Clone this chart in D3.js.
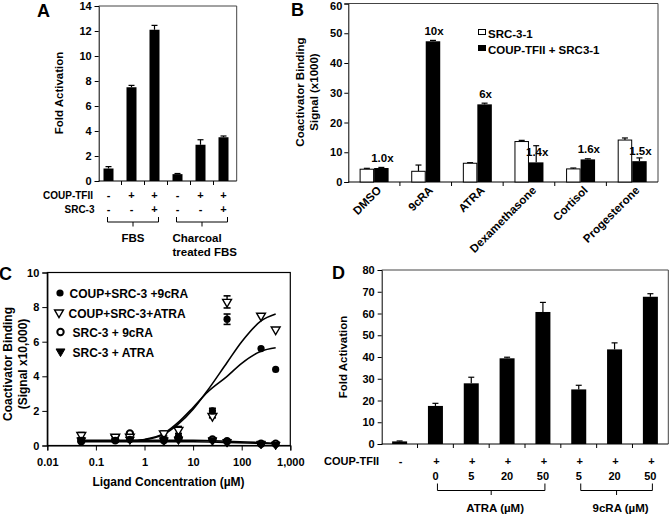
<!DOCTYPE html>
<html>
<head>
<meta charset="utf-8">
<script src="https://cdn.jsdelivr.net/npm/d3@7"></script>
<style>
  html, body { margin: 0; padding: 0; background: #fff; }
  svg { display: block; font-family: "Liberation Sans", Arial, sans-serif; font-weight: bold; }
  text { fill: #000; }
</style>
</head>
<body>
<script>
// ---------------- DATA ----------------
// Panel A
const aCoup = ["-", "+", "+", "-", "+", "+"];
const aSrc = ["-", "-", "+", "-", "-", "+"];
const aValues = [1.0, 7.5, 12.1, 0.55, 2.9, 3.5];
const aErrors = [0.15, 0.15, 0.35, 0.05, 0.4, 0.1];
const aTicks = [0, 2, 4, 6, 8, 10, 12, 14];
const aGroups = [{ label: ["FBS"], from: 0, to: 2 }, { label: ["Charcoal", "treated FBS"], from: 3, to: 5 }];

// Panel B
const bCategories = ["DMSO", "9cRA", "ATRA", "Dexamethasone", "Cortisol", "Progesterone"];
const bSrc = [4.3, 3.6, 6.3, 13.6, 4.4, 14.1];
const bSrcErr = [0.3, 2.1, 0.2, 0.4, 0.3, 0.7];
const bCoup = [4.7, 47.3, 26.1, 6.6, 7.6, 7.0];
const bCoupErr = [0.2, 0.3, 0.4, 5.6, 0.2, 1.1];
const bFold = ["1.0x", "10x", "6x", "1.4x", "1.6x", "1.5x"];
const bTicks = [0, 10, 20, 30, 40, 50, 60];
const bLegend = ["SRC-3-1", "COUP-TFII + SRC3-1"];

// Panel C
const cConc = [0.05, 0.25, 0.5, 2.5, 5, 25, 50, 250, 500];
const cCoup9 = [0.3, 0.3, 0.35, 0.35, 0.5, 2.0, 7.3, 5.6, 4.4];
const cCoup9Err = [0.1, 0.1, 0.1, 0.1, 0.1, 0.15, 0.3, 0, 0];
const cCoupAtra = [0.6, 0.5, 0.5, 0.7, 0.9, 1.7, 8.3, 7.5, 6.7];
const cCoupAtraErr = [0.15, 0.1, 0.1, 0.15, 0.2, 0.1, 0.35, 0, 0];
const cSrc9 = [0.25, 0.3, 0.7, 0.3, 0.4, 0.35, 0.25, 0.1, 0.1];
const cSrcAtra = [0.3, 0.45, 0.35, 0.3, 0.35, 0.3, 0.2, 0.1, 0.05];
// fitted curves (concentration, value)
const cFitAtra = [[0.05, 0.25], [0.5, 0.27], [1, 0.33], [2.5, 0.65], [5, 1.25], [10, 2.1], [20, 3.2], [50, 4.8], [100, 6.0], [250, 7.2], [500, 7.6]];
const cFit9 = [[0.05, 0.25], [0.5, 0.27], [1, 0.35], [2.5, 0.7], [5, 1.35], [10, 2.2], [20, 3.1], [50, 4.0], [100, 4.75], [250, 5.45], [500, 5.65]];
const cFitSrc9 = [[0.05, 0.3], [1, 0.3], [10, 0.3], [50, 0.25], [500, 0.12]];
const cFitSrcAtra = [[0.05, 0.22], [1, 0.22], [10, 0.22], [50, 0.18], [500, 0.1]];
const cXTicks = [0.01, 0.1, 1, 10, 100, 1000];
const cXTickLabels = ["0.01", "0.1", "1", "10", "100", "1,000"];
const cYTicks = [0, 2, 4, 6, 8, 10];
const cLegend = ["COUP+SRC-3 +9cRA", "COUP+SRC-3+ATRA", "SRC-3 + 9cRA", "SRC-3 + ATRA"];

// Panel D
const dCoup = ["-", "+", "+", "+", "+", "+", "+", "+"];
const dDose = ["", "0", "5", "20", "50", "5", "20", "50"];
const dValues = [1.2, 17.5, 27.9, 39.4, 60.7, 25.1, 43.5, 67.7];
const dErrors = [0.2, 1.2, 2.8, 0.5, 4.4, 1.9, 3.0, 1.4];
const dTicks = [0, 10, 20, 30, 40, 50, 60, 70, 80];
const dGroups = [{ label: "ATRA (\u00b5M)", from: 1, to: 4 }, { label: "9cRA (\u00b5M)", from: 5, to: 7 }];

// ---------------- DRAW ----------------
const svg = d3.select("body").append("svg").attr("width", 670).attr("height", 514);
svg.append("rect").attr("width", 670).attr("height", 514).attr("fill", "#fff");

function frame(g, x0, x1, y0, y1) {
  g.append("path").attr("d", `M${x0},${y0}H${x1}V${y1}`).attr("fill", "none").attr("stroke", "#444").attr("stroke-width", 1);
}
function styleAxis(g, size) {
  g.selectAll("path.domain").attr("stroke", "#000");
  g.selectAll(".tick line").attr("stroke", "#000");
  g.selectAll("text").attr("font-size", size).attr("font-weight", "bold").attr("font-family", "Liberation Sans, Arial, sans-serif").attr("fill", "#000");
}
function errBar(g, x, yTop, yBase, cap) {
  g.append("line").attr("x1", x).attr("x2", x).attr("y1", yBase).attr("y2", yTop).attr("stroke", "#000").attr("stroke-width", 1.2);
  g.append("line").attr("x1", x - cap).attr("x2", x + cap).attr("y1", yTop).attr("y2", yTop).attr("stroke", "#000").attr("stroke-width", 1.2);
}
function bracket(g, x1, x2, y1, y2, y3) {
  const xm = (x1 + x2) / 2;
  g.append("path").attr("d", `M${x1},${y1}V${y2}H${x2}V${y1}M${xm},${y2}V${y3}`).attr("fill", "none").attr("stroke", "#000").attr("stroke-width", 1);
}
function panelLetter(t, x, y) {
  svg.append("text").attr("x", x).attr("y", y).attr("font-size", 18).attr("font-weight", "bold").text(t);
}
function yLabel(lines, cx, cy, size) {
  const t = svg.append("text").attr("transform", `translate(0,${cy}) rotate(-90)`).attr("text-anchor", "middle").attr("font-size", size);
  lines.forEach((l, i) => t.append("tspan").attr("x", 0).attr("y", l.x).text(l.t));
}

// ===== Panel A =====
{
  const g = svg.append("g");
  const idx = d3.range(aValues.length);
  const x = d3.scaleBand().domain(idx).range([97, 235]);
  const y = d3.scaleLinear().domain([0, 14]).range([181, 6]);
  const axL = 98.7, axR = 236.7;
  frame(g, axL, axR, 6, 181);
  const ya = g.append("g").attr("transform", `translate(${axL},0)`).call(d3.axisLeft(y).tickValues(aTicks).tickSize(4).tickPadding(3));
  styleAxis(ya, 11);
  g.append("line").attr("x1", axL).attr("x2", axR).attr("y1", 181).attr("y2", 181).attr("stroke", "#000");
  idx.slice(1).forEach(i => g.append("line").attr("x1", x(i) + 1.5).attr("x2", x(i) + 1.5).attr("y1", 181).attr("y2", 185).attr("stroke", "#000"));
  const bw = 10;
  idx.forEach(i => {
    const cx = x(i) + x.bandwidth() / 2;
    errBar(g, cx, y(aValues[i] + aErrors[i]), y(aValues[i]), 3);
    g.append("rect").attr("x", cx - bw / 2).attr("y", y(aValues[i])).attr("width", bw).attr("height", y(0) - y(aValues[i])).attr("fill", "#000");
    g.append("text").attr("x", cx).attr("y", 199).attr("text-anchor", "middle").attr("font-size", 11).text(aCoup[i]);
    g.append("text").attr("x", cx).attr("y", 213).attr("text-anchor", "middle").attr("font-size", 11).text(aSrc[i]);
  });
  g.append("text").attr("x", 93).attr("y", 198.5).attr("text-anchor", "end").attr("font-size", 10).text("COUP-TFII");
  g.append("text").attr("x", 94.5).attr("y", 212.5).attr("text-anchor", "end").attr("font-size", 10).text("SRC-3");
  aGroups.forEach((gr, k) => {
    const x1 = x(gr.from) + x.bandwidth() / 2 - 1, x2 = x(gr.to) + x.bandwidth() / 2 + 4;
    bracket(g, x1, x2, 217, 222, 226.5);
    if (gr.label.length === 1) {
      g.append("text").attr("x", (x1 + x2) / 2).attr("y", 241.5).attr("text-anchor", "middle").attr("font-size", 11.5).text(gr.label[0]);
    } else {
      gr.label.forEach((l, j) => g.append("text").attr("x", x1 - 4).attr("y", 241.5 + j * 14.5).attr("font-size", 11.5).text(l));
    }
  });
  yLabel([{ t: "Fold Activation", x: 63 }], 0, 93, 11.5);
  panelLetter("A", 37, 17);
}

// ===== Panel B =====
{
  const g = svg.append("g");
  const x = d3.scaleBand().domain(bCategories).range([348.3, 658]);
  const y = d3.scaleLinear().domain([0, 60]).range([182, 3.5]);
  const axL = 348.3, axR = 658;
  frame(g, axL, axR, 3.5, 182);
  const ya = g.append("g").attr("transform", `translate(${axL},0)`).call(d3.axisLeft(y).tickValues(bTicks).tickSize(4).tickPadding(2));
  styleAxis(ya, 11);
  // keep the top tick label inside the picture
  ya.selectAll(".tick").filter(d => d === 60).select("text").attr("dy", "0.55em");
  g.append("line").attr("x1", axL).attr("x2", axR).attr("y1", 182).attr("y2", 182).attr("stroke", "#000");
  bCategories.slice(1).forEach(c => g.append("line").attr("x1", x(c)).attr("x2", x(c)).attr("y1", 182).attr("y2", 186).attr("stroke", "#000"));
  const bw = 14.5;
  bCategories.forEach((c, i) => {
    const cx = x(c) + x.bandwidth() / 2;
    errBar(g, cx - bw / 2, y(bSrc[i] + bSrcErr[i]), y(bSrc[i]), 3);
    errBar(g, cx + bw / 2, y(bCoup[i] + bCoupErr[i]), y(bCoup[i]), 3);
    g.append("rect").attr("x", cx - bw + 0.5).attr("y", y(bSrc[i])).attr("width", bw - 1).attr("height", y(0) - y(bSrc[i])).attr("fill", "#fff").attr("stroke", "#000").attr("stroke-width", 1);
    g.append("rect").attr("x", cx).attr("y", y(bCoup[i])).attr("width", bw).attr("height", y(0) - y(bCoup[i])).attr("fill", "#000");
    g.append("text").attr("x", cx + bw / 2 + 1).attr("y", y(bCoup[i]) - 6).attr("text-anchor", "middle").attr("font-size", 11.5).text(bFold[i]);
    g.append("text").attr("transform", `translate(${cx + 8},${191}) rotate(-45)`).attr("text-anchor", "end").attr("font-size", 11.5).text(c);
  });
  // legend
  g.append("rect").attr("x", 478.5).attr("y", 29.5).attr("width", 7).attr("height", 5).attr("fill", "#fff").attr("stroke", "#000");
  g.append("text").attr("x", 488).attr("y", 38).attr("font-size", 11.5).text(bLegend[0]);
  g.append("rect").attr("x", 478).attr("y", 45).attr("width", 8).attr("height", 6).attr("fill", "#000");
  g.append("text").attr("x", 488).attr("y", 54).attr("font-size", 11.5).text(bLegend[1]);
  yLabel([{ t: "Coactivator Binding", x: 303.5 }, { t: "Signal (x1000)", x: 317.5 }], 0, 92, 11.5);
  panelLetter("B", 291, 16);
}

// ===== Panel C =====
{
  const g = svg.append("g");
  const x = d3.scaleLog().domain([0.01, 1000]).range([47.3, 290.3]);
  const y = d3.scaleLinear().domain([0, 10]).range([445.5, 272.5]);
  g.append("rect").attr("x", 47.3).attr("y", 272.5).attr("width", 243).attr("height", 173).attr("fill", "none").attr("stroke", "#000").attr("stroke-width", 1.2);
  const ya = g.append("g").attr("transform", "translate(47.3,0)").call(d3.axisLeft(y).tickValues(cYTicks).tickSize(5).tickPadding(3));
  styleAxis(ya, 11);
  const xa = g.append("g").attr("transform", "translate(0,445.5)").call(d3.axisBottom(x).tickValues(cXTicks).tickFormat((d, i) => cXTickLabels[i]).tickSize(5).tickPadding(8));
  styleAxis(xa, 11);
  g.selectAll("path.domain").attr("stroke-width", 1.2);

  const line = d3.line().x(d => x(d[0])).y(d => y(d[1])).curve(d3.curveMonotoneX);
  [cFitAtra, cFit9, cFitSrc9, cFitSrcAtra].forEach(f => g.append("path").attr("d", line(f)).attr("fill", "none").attr("stroke", "#000").attr("stroke-width", 1.6));

  const tri = d3.symbol().type(d3.symbolTriangle).size(34);
  const drawMarker = (sel, kind, cx, cy, legend) => {
    if (kind === 0) sel.append("circle").attr("cx", cx).attr("cy", cy).attr("r", 3.6).attr("fill", "#000");
    if (kind === 1) sel.append("path").attr("d", tri()).attr("transform", `translate(${cx},${cy}) rotate(180)`).attr("fill", "#fff").attr("stroke", "#000").attr("stroke-width", 1.4);
    if (kind === 2) sel.append("circle").attr("cx", cx).attr("cy", cy).attr("r", 3.2).attr("fill", legend ? "#fff" : "none").attr("stroke", "#000").attr("stroke-width", 2);
    if (kind === 3) sel.append("path").attr("d", tri()).attr("transform", `translate(${cx},${cy}) rotate(180)`).attr("fill", "#000").attr("stroke", "#000").attr("stroke-width", 1);
  };
  const series = [
    { v: cSrc9, e: null, k: 2 },
    { v: cSrcAtra, e: null, k: 3 },
    { v: cCoupAtra, e: cCoupAtraErr, k: 1 },
    { v: cCoup9, e: cCoup9Err, k: 0 }
  ];
  series.forEach(s => {
    cConc.forEach((c, i) => {
      const cx = x(c), cy = y(s.v[i]);
      if (s.e && s.e[i] > 0) {
        g.append("line").attr("x1", cx).attr("x2", cx).attr("y1", y(s.v[i] - s.e[i])).attr("y2", y(s.v[i] + s.e[i])).attr("stroke", "#000").attr("stroke-width", 1.4);
        [s.v[i] - s.e[i], s.v[i] + s.e[i]].forEach(v => g.append("line").attr("x1", cx - 3.5).attr("x2", cx + 3.5).attr("y1", y(v)).attr("y2", y(v)).attr("stroke", "#000").attr("stroke-width", 1.6));
      }
      drawMarker(g, s.k, cx, cy, false);
    });
  });
  // legend
  const ly = [294, 313.5, 333, 352.5];
  const lx = [69.5, 68.5, 72.5, 72.5];
  const lmx = [60, 59, 60.5, 60.5];
  [0, 1, 2, 3].forEach(k => {
    drawMarker(g, k, lmx[k], ly[k] - 1, true);
    g.append("text").attr("x", lx[k]).attr("y", ly[k] + 4).attr("font-size", 12).text(cLegend[k]);
  });
  g.append("text").attr("x", 168.5).attr("y", 486).attr("text-anchor", "middle").attr("font-size", 12).text("Ligand Concentration (\u00b5M)");
  yLabel([{ t: "Coactivator Binding", x: 12 }, { t: "(Signal x10,000)", x: 26.5 }], 0, 364, 12);
  panelLetter("C", -1, 280);
}

// ===== Panel D =====
{
  const g = svg.append("g");
  const idx = d3.range(dValues.length);
  const x = d3.scaleBand().domain(idx).range([381.7, 668.3]);
  const y = d3.scaleLinear().domain([0, 80]).range([444, 270]);
  const axL = 381.7, axR = 668.3;
  frame(g, axL, axR, 270, 444);
  const ya = g.append("g").attr("transform", `translate(${axL},0)`).call(d3.axisLeft(y).tickValues(dTicks).tickSize(4).tickPadding(3));
  styleAxis(ya, 11);
  g.append("line").attr("x1", axL).attr("x2", axR).attr("y1", 444).attr("y2", 444).attr("stroke", "#000");
  idx.slice(1).forEach(i => g.append("line").attr("x1", x(i)).attr("x2", x(i)).attr("y1", 444).attr("y2", 448).attr("stroke", "#000"));
  const bw = 15;
  idx.forEach(i => {
    const cx = x(i) + x.bandwidth() / 2;
    errBar(g, cx, y(dValues[i] + dErrors[i]), y(dValues[i]), 3);
    g.append("rect").attr("x", cx - bw / 2).attr("y", y(dValues[i])).attr("width", bw).attr("height", y(0) - y(dValues[i])).attr("fill", "#000");
    g.append("text").attr("x", cx + 1).attr("y", 464.5).attr("text-anchor", "middle").attr("font-size", 11).text(dCoup[i]);
    g.append("text").attr("x", cx).attr("y", 480).attr("text-anchor", "middle").attr("font-size", 11).text(dDose[i]);
  });
  g.append("text").attr("x", 379).attr("y", 464.5).attr("text-anchor", "end").attr("font-size", 11).text("COUP-TFII");
  dGroups.forEach(gr => {
    const x1 = x(gr.from) + x.bandwidth() / 2 + 2, x2 = x(gr.to) + x.bandwidth() / 2 + 2;
    bracket(g, x1, x2, 483.5, 490.5, 495);
    g.append("text").attr("x", (x1 + x2) / 2 + 4).attr("y", 512).attr("text-anchor", "middle").attr("font-size", 11.5).text(gr.label);
  });
  yLabel([{ t: "Fold Activation", x: 347 }], 0, 357, 11.5);
  panelLetter("D", 332, 279);
}
</script>
</body>
</html>
